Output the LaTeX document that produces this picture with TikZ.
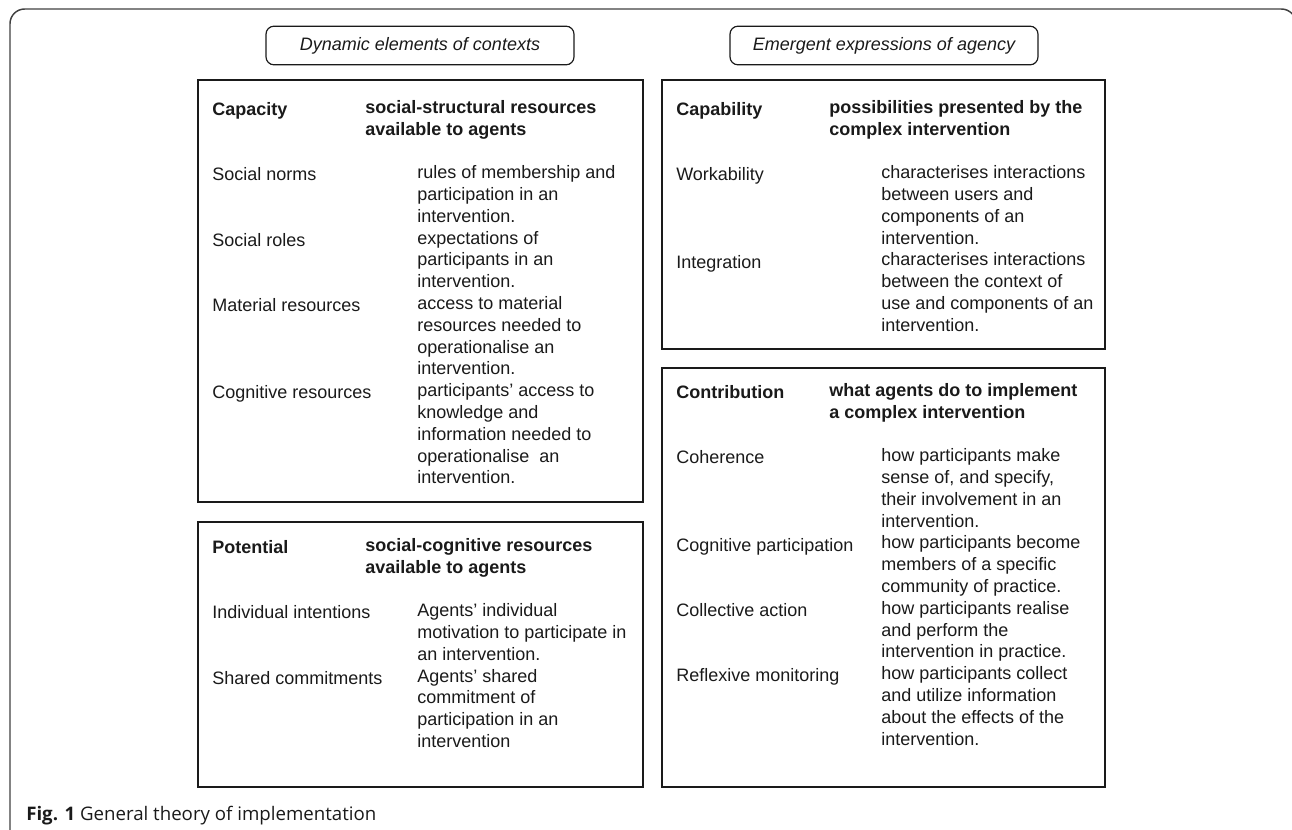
\documentclass[tikz,border=0pt]{standalone}
\usepackage{fontspec}
\setmainfont{Liberation Sans}
\newfontfamily\capfont{Open Sans}
\definecolor{ink}{HTML}{1A1A1A}
\tikzset{
  frame/.style={draw=black!75, line width=1.1pt, rounded corners=11pt},
  panel/.style={draw=ink, line width=1.5pt},
  tag/.style={draw=ink, line width=0.9pt, rounded corners=6pt, minimum width=231pt,
    minimum height=29pt, inner sep=0pt, text=ink, font=\itshape},
  term/.style={anchor=north west, inner sep=0pt, align=left, text=ink,
    execute at begin node=\strut, execute at end node=\strut},
  head/.style={term, font=\bfseries},
}
\begin{document}
\fontsize{13.5}{16.35}\selectfont
\begin{tikzpicture}[x=0.75pt, y=-0.75pt]
    \useasboundingbox (0,0) rectangle (1292,829);
    \clip (0,0) rectangle (1292,829);
    % Draw the outer frame, cut at the right and bottom
    \draw[frame] (10,9) rectangle (1296,880);
    % Place the two headline tags
    \node[tag] (ctx) at (420,45.5) {Dynamic elements of contexts};
    \node[tag] (agency) at (884,45.5) {Emergent expressions of agency};
    % Draw the four panels
    \draw[panel] (198,80) rectangle (643,502);
    \draw[panel] (198,522) rectangle (643,787);
    \draw[panel] (662,80) rectangle (1105,349);
    \draw[panel] (662,368) rectangle (1105,787);

    % Capacity panel
    \node[head] (capH) at (212,100) {Capacity};
    \node[head] (capHd) at (365,100) {social-structural resources\\available to agents};
    \node[term] (capT1) at (212,165.4) {Social norms};
    \node[term] (capD1) at (417,165.4) {rules of membership and\\participation in an\\intervention.};
    \node[term] (capT2) at (212,230.8) {Social roles};
    \node[term] (capD2) at (417,230.8) {expectations of\\participants in an\\intervention.};
    \node[term] (capT3) at (212,296.2) {Material resources};
    \node[term] (capD3) at (417,296.2) {access to material\\resources needed to\\operationalise an\\intervention.};
    \node[term] (capT4) at (212,383.4) {Cognitive resources};
    \node[term] (capD4) at (417,383.4) {participants' access to\\knowledge and\\information needed to\\operationalise~ an\\intervention.};

    % Potential panel
    \node[head] (potH) at (212,538) {Potential};
    \node[head] (potHd) at (365,538) {social-cognitive resources\\available to agents};
    \node[term] (potT1) at (212,603.4) {Individual intentions};
    \node[term] (potD1) at (417,603.4) {Agents' individual\\motivation to participate in\\an intervention.};
    \node[term] (potT2) at (212,668.8) {Shared commitments};
    \node[term] (potD2) at (417,668.8) {Agents' shared\\commitment of\\participation in an\\intervention};

    % Capability panel
    \node[head] (cblH) at (676,100) {Capability};
    \node[head] (cblHd) at (829,100) {possibilities presented by the\\complex intervention};
    \node[term] (cblT1) at (676,165.4) {Workability};
    \node[term] (cblD1) at (881,165.4) {characterises interactions\\between users and\\components of an\\intervention.};
    \node[term] (cblT2) at (676,252.6) {Integration};
    \node[term] (cblD2) at (881,252.6) {characterises interactions\\between the context of\\use and components of an\\intervention.};

    % Contribution panel
    \node[head] (conH) at (676,383) {Contribution};
    \node[head] (conHd) at (829,383) {what agents do to implement\\a complex intervention};
    \node[term] (conT1) at (676,448.4) {Coherence};
    \node[term] (conD1) at (881,448.4) {how participants make\\sense of, and specify,\\their involvement in an\\intervention.};
    \node[term] (conT2) at (676,535.6) {Cognitive participation};
    \node[term] (conD2) at (881,535.6) {how participants become\\members of a specific\\community of practice.};
    \node[term] (conT3) at (676,601.0) {Collective action};
    \node[term] (conD3) at (881,601.0) {how participants realise\\and perform the\\intervention in practice.};
    \node[term] (conT4) at (676,666.4) {Reflexive monitoring};
    \node[term] (conD4) at (881,666.4) {how participants collect\\and utilize information\\about the effects of the\\intervention.};

    % Caption under the panels
    \node[anchor=base west, inner sep=0pt, text=ink] (fig) at (26,820)
      {\capfont\fontsize{14}{16}\selectfont\textbf{Fig. 1} General theory of implementation};
\end{tikzpicture}
\end{document}
